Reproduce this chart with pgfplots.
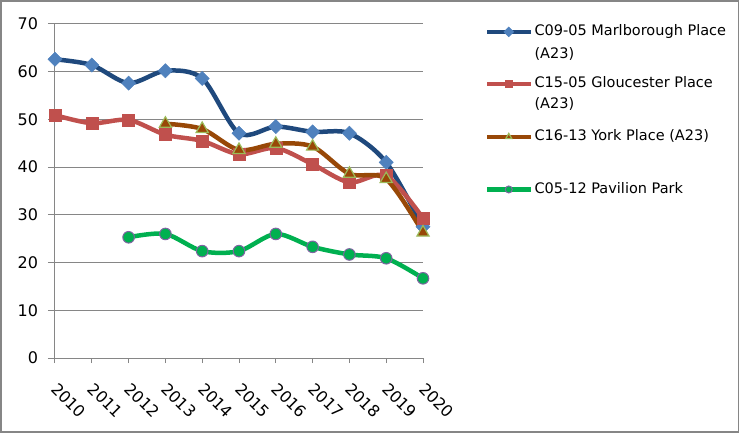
\documentclass[border=0pt]{standalone}
\usepackage{pgfplots}
\pgfplotsset{compat=1.18}
\usepackage{fontspec}
\setmainfont{DejaVu Sans}
\definecolor{gridgray}{HTML}{868686}
\definecolor{blueline}{HTML}{1F497D}
\definecolor{bluemark}{HTML}{4F81BD}
\definecolor{redline}{HTML}{C0504D}
\definecolor{brownline}{HTML}{984807}
\definecolor{olive}{HTML}{9BBB59}
\definecolor{greenline}{HTML}{00B050}
\definecolor{purplemark}{HTML}{8064A2}
\begin{document}
\fontsize{14.5bp}{17bp}\selectfont
\begin{tikzpicture}
\useasboundingbox (-55bp,-76bp) rectangle (687bp,358bp);
\draw[gridgray, line width=1.5bp] (-54bp,-74bp) rectangle (683.5bp,357bp);
\begin{axis}[
  scale only axis, width=368bp, height=334bp,
  xmin=0, xmax=10, ymin=0, ymax=70,
  xtick={0,...,10},
  xticklabels={2010,2011,2012,2013,2014,2015,2016,2017,2018,2019,2020},
  ytick={0,10,...,70},
  axis x line*=bottom, axis y line*=left,
  axis line style={gridgray, line width=1bp},
  ymajorgrids, grid style={gridgray, line width=1bp},
  tick align=outside,
  major tick length=7bp,
  tick style={gridgray, line width=1bp},
  xtick style={/pgfplots/major tick length=5bp},
  /pgf/number format/assume math mode=true,
  ticklabel style={font=\fontsize{16bp}{19bp}\selectfont, text=black},
  xticklabel style={xshift=3.5bp, yshift=-9.5bp, rotate=-45, anchor=north west},
  yticklabel style={xshift=-5bp},
  legend style={at={(axis description cs:1.168,0.998)}, anchor=north west,
    draw=none, fill=none, inner xsep=0pt, inner ysep=0pt,
    row sep=0bp, font=\fontsize{14.5bp}{17bp}\selectfont,
    nodes={inner xsep=2bp, inner ysep=0bp, text height=11bp, text depth=3bp}},
  legend cell align=left,
  legend image code/.code={\draw[mark repeat=2, mark phase=2, mark size=3.5bp] plot coordinates {(0bp,0bp) (21.5bp,0bp) (43bp,0bp)};},
]
\addplot[blueline, line width=4.5bp, smooth, tension=0.5, mark=square*, mark size=5bp,
  mark options={rotate=45, fill=bluemark, draw=bluemark, line width=0.5bp}]
  coordinates {(0,62.6) (1,61.4) (2,57.6) (3,60.2) (4,58.6) (5,47.1) (6,48.5) (7,47.4) (8,47.1) (9,41.0) (10,27.5)};
\addlegendentry{C09-05 Marlborough Place}
\addlegendimage{empty legend}
\addlegendentry[text height=19.3bp, text depth=18.7bp]{(A23)}
\addplot[redline, line width=4.5bp, smooth, tension=0.5, mark=square*, mark size=6bp,
  mark options={fill=redline, draw=redline, line width=0.5bp}]
  coordinates {(0,50.9) (1,49.2) (2,49.9) (3,46.8) (4,45.5) (5,42.7) (6,44.0) (7,40.6) (8,36.8) (9,38.2) (10,29.3)};
\addlegendentry{C15-05 Gloucester Place}
\addlegendimage{empty legend}
\addlegendentry[text height=17.3bp, text depth=21.7bp]{(A23)}
\addplot[brownline, line width=4.5bp, smooth, tension=0.5, mark=triangle*, mark size=7bp,
  mark options={fill=brownline, draw=olive, line width=1.2bp}]
  coordinates {(3,49.1) (4,48.0) (5,43.6) (6,44.9) (7,44.3) (8,38.6) (9,37.5) (10,26.3)};
\addlegendentry{C16-13 York Place (A23)}
\addlegendimage{empty legend}
\addlegendentry[text height=38.6bp, text depth=0bp]{}
\addplot[greenline, line width=4.5bp, smooth, tension=0.5, mark=*, mark size=5.8bp,
  mark options={fill=greenline, draw=purplemark, line width=1bp}]
  coordinates {(2,25.3) (3,26.0) (4,22.4) (5,22.4) (6,26.0) (7,23.3) (8,21.7) (9,20.9) (10,16.7)};
\addlegendentry{C05-12 Pavilion Park}
\end{axis}
\end{tikzpicture}
\end{document}
